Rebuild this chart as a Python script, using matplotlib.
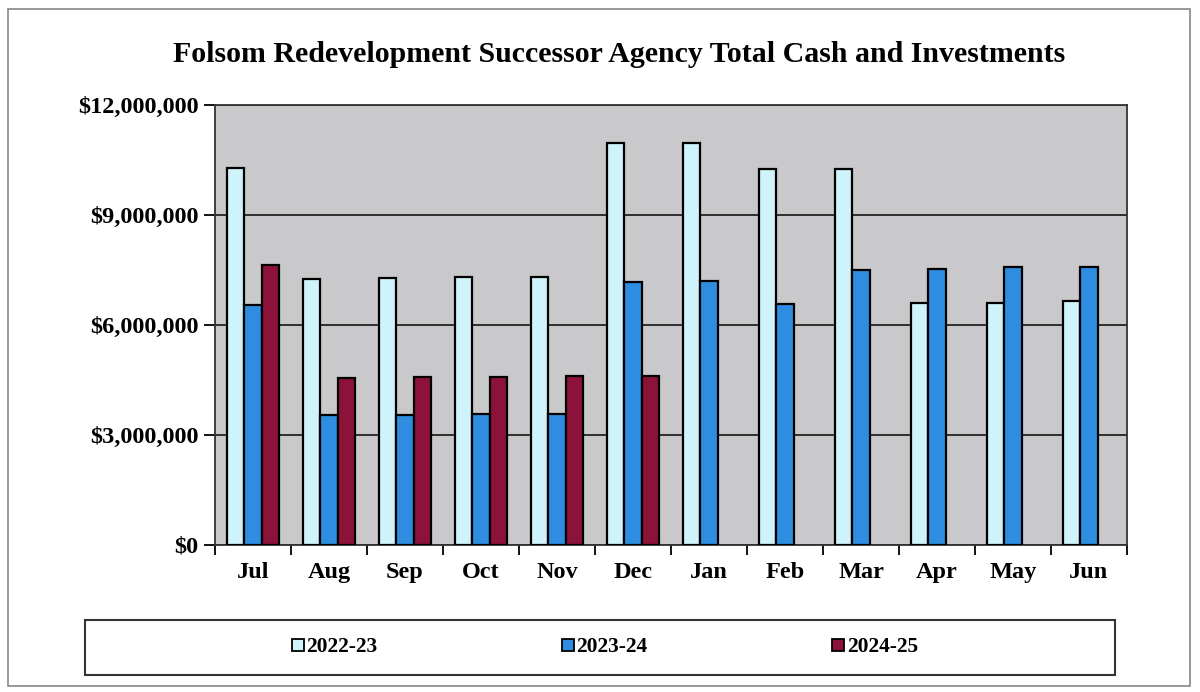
import matplotlib
matplotlib.use("Agg")
import matplotlib.pyplot as plt
import numpy as np
from matplotlib.patches import Rectangle
from matplotlib.lines import Line2D
from matplotlib.ticker import FuncFormatter, MultipleLocator, FixedLocator

months = ["Jul", "Aug", "Sep", "Oct", "Nov", "Dec", "Jan", "Feb", "Mar", "Apr", "May", "Jun"]
series_names = ["2022-23", "2023-24", "2024-25"]
fy2223 = [10.28, 7.25, 7.28, 7.30, 7.30, 10.97, 10.97, 10.25, 10.25, 6.60, 6.60, 6.65]
fy2324 = [6.55, 3.55, 3.55, 3.57, 3.58, 7.18, 7.20, 6.57, 7.50, 7.52, 7.58, 7.58]
fy2425 = [7.64, 4.55, 4.57, 4.58, 4.60, 4.60]
colors = ["#CFF3FA", "#2E8DE0", "#8C1239"]

plt.rcParams['font.family'] = ['Liberation Serif', 'DejaVu Serif']

fig = plt.figure(figsize=(12, 6.92), dpi=100)
ax = fig.add_axes([215/1200, 1-545/692, 912/1200, 440/692])
ax.set_facecolor("#C9C9CC")

x = np.arange(len(months))
w = 0.23
for i, (vals, c) in enumerate(zip([fy2223, fy2324, fy2425], colors)):
    xs = x[:len(vals)] + (i - 1) * w
    ax.bar(xs, np.array(vals) * 1e6, width=w, color=c, edgecolor="black", linewidth=1.6,
           label=series_names[i], zorder=3)

ax.set_xlim(-0.5, len(months) - 0.5)
ax.set_ylim(0, 12e6)
ax.yaxis.set_major_locator(MultipleLocator(3e6))
ax.yaxis.set_major_formatter(FuncFormatter(lambda v, p: "${:,.0f}".format(v)))
ax.grid(axis="y", color="#222222", linewidth=1.3, zorder=1)
ax.set_xticks(x)
ax.set_xticklabels(months)
ax.xaxis.set_minor_locator(FixedLocator(np.arange(-0.5, len(months), 1.0)))
ax.tick_params(axis="x", which="major", length=0, pad=12)
ax.tick_params(axis="x", which="minor", length=7, width=1.3, direction="out")
ax.tick_params(axis="y", length=8, width=1.3, direction="out", pad=4)
for lab in ax.get_xticklabels() + ax.get_yticklabels():
    lab.set_fontweight("bold")
    lab.set_fontsize(17.5)
for s in ax.spines.values():
    s.set_color("#333333")
    s.set_linewidth(1.3)

fig.text(619/1200, 1-55/692, "Folsom Redevelopment Successor Agency Total Cash and Investments",
         ha="center", va="center", fontsize=21.5, fontweight="bold")

# legend box
fig.patches.append(Rectangle((85/1200, 1-675/692), 1030/1200, 55/692, transform=fig.transFigure,
                             fill=False, edgecolor="#333333", linewidth=1.5))
# outer border
fig.patches.append(Rectangle((8/1200, 1-686/692), 1182/1200, 677/692, transform=fig.transFigure,
                             fill=False, edgecolor="#888888", linewidth=1.2))

handles = [Line2D([0], [0], marker="s", linestyle="none", markersize=9, markerfacecolor=c,
                  markeredgecolor="black", markeredgewidth=1.3) for c in colors]
leg = fig.legend(handles, series_names, loc="center", bbox_to_anchor=(605/1200, 1-647/692),
                 ncol=3, frameon=False, handlelength=0.5, handletextpad=0.15,
                 columnspacing=8.6, prop={"weight": "bold", "size": 15.5})

fig.savefig("out.png", dpi=100)
